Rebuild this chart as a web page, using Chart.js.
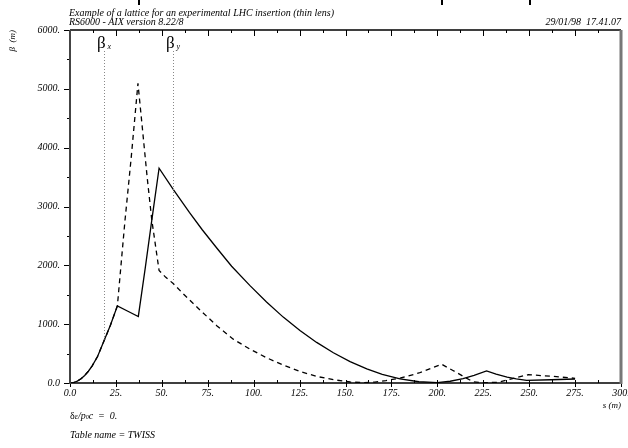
<!DOCTYPE html>
<html>
<head>
<meta charset="utf-8">
<script src="https://cdn.jsdelivr.net/npm/chart.js@4.4.0/dist/chart.umd.min.js"></script>
<style>
html, body { margin: 0; padding: 0; background: #fff; }
#wrap { position: relative; width: 628px; height: 448px; font-family: "Liberation Serif", "DejaVu Serif", serif; font-style: italic; color: #000; }
#wrap canvas { position: absolute; left: 0; top: 0; }
.t { position: absolute; white-space: pre; font-size: 10px; line-height: 10px; }
.f { position: absolute; white-space: pre; font-size: 10px; line-height: 12px; }
.bar { position: absolute; top: 0; width: 2px; height: 5px; background: #000; }
</style>
</head>
<body>
<div id="wrap">
  <canvas id="c" width="628" height="448"></canvas>
  <div class="bar" style="left:138px"></div>
  <div class="bar" style="left:441px"></div>
  <div class="bar" style="left:529px"></div>
  <div class="t" style="left:69px;top:8px">Example of a lattice for an experimental LHC insertion (thin lens)</div>
  <div class="t" style="left:69px;top:17px">RS6000 - AIX version 8.22/8</div>
  <div class="t" style="right:7px;top:17px">29/01/98  17.41.07</div>
  <div class="f" style="left:70px;top:410px"><span style="font-style:normal">δ</span><span style="font-size:8px">ε</span>/p<span style="font-size:6px">0</span>c  =  0.</div>
  <div class="f" style="left:70px;top:429px">Table name = TWISS</div>
</div>
<script>
// beta x (solid)
const sX = [0, 2, 4, 6, 8, 10, 12, 15, 18.7, 22, 25.8, 31.5, 37.2, 41, 44.5, 48.5, 56.2, 65, 72, 79.9, 88, 98, 107, 116.1, 125.2, 134.3, 143.4, 152.5, 161.6, 170, 179.7, 190, 200, 207, 214, 220, 226.8, 232, 238, 243, 248.6, 262, 275];
const betaX = [0, 8, 32, 72, 128, 200, 288, 450, 730, 980, 1312, 1220, 1131, 1960, 2760, 3650, 3290, 2900, 2605, 2295, 1985, 1655, 1378, 1120, 893, 690, 514, 363, 239, 148, 70, 21, 8, 30, 75, 130, 205, 150, 100, 70, 45, 55, 68];

// beta y (dashed)
const sY = [0, 2, 4, 6, 8, 10, 12, 15, 18.7, 22, 25.8, 29.9, 33.2, 37, 39.5, 42, 44.5, 48.5, 52, 56.2, 61.7, 70.8, 79.9, 88.9, 98, 107.1, 116.1, 125.2, 134.3, 143.4, 152.5, 160, 166, 172, 180, 190, 202.3, 208, 211, 214, 219.5, 225, 233, 241, 249.5, 262, 275];
const betaY = [0, 8, 32, 72, 128, 200, 288, 450, 730, 980, 1312, 2750, 3790, 5093, 4300, 3500, 2780, 1912, 1800, 1690, 1515, 1240, 975, 745, 575, 428, 305, 195, 112, 56, 17, 6, 15, 40, 85, 170, 320, 220, 170, 115, 20, 5, 12, 75, 141, 115, 80];

// label markers (beta_x, beta_y)
const markerNames = ['x', 'y'];
const markerS = [18.7, 56.2];
const markerBeta = [740, 1720];

const xTicksMajor = 25, xTicksMinor = 12.5;
const yTicksMajor = 1000, yTicksMinor = 500;

const serif = '"Liberation Serif", "DejaVu Serif", serif';

function fmt(v) { return v === 0 ? '0.0' : v + '.'; }

const frame = {
  id: 'frame',
  afterDraw(chart) {
    const ctx = chart.ctx, a = chart.chartArea;
    const xs = chart.scales.x, ys = chart.scales.y;
    ctx.save();
    // ticks
    ctx.strokeStyle = '#000';
    ctx.lineWidth = 1;
    ctx.beginPath();
    for (let v = 0; v <= xs.max; v += xTicksMinor) {
      const px = Math.round(xs.getPixelForValue(v)) + 0.5;
      const major = v % xTicksMajor === 0;
      ctx.moveTo(px, a.bottom - 3);
      ctx.lineTo(px, a.bottom + (major ? 4 : 0));
      ctx.moveTo(px, a.top);
      ctx.lineTo(px, a.top + (major ? 6 : 3));
    }
    for (let v = 0; v <= ys.max; v += yTicksMinor) {
      const py = Math.round(ys.getPixelForValue(v)) + 0.5;
      const major = v % yTicksMajor === 0;
      ctx.moveTo(a.left - (major ? 6 : 3), py);
      ctx.lineTo(a.left, py);
    }
    ctx.stroke();
    // frame lines
    ctx.lineWidth = 1.5;
    ctx.beginPath();
    ctx.moveTo(a.left, a.top); ctx.lineTo(a.right, a.top);
    ctx.moveTo(a.left, a.bottom); ctx.lineTo(a.right, a.bottom);
    ctx.stroke();
    ctx.strokeStyle = '#444';
    ctx.lineWidth = 2;
    ctx.beginPath(); ctx.moveTo(a.left, a.top); ctx.lineTo(a.left, a.bottom + 1); ctx.stroke();
    ctx.strokeStyle = '#777';
    ctx.lineWidth = 3;
    ctx.beginPath(); ctx.moveTo(a.right, a.top); ctx.lineTo(a.right, a.bottom + 1); ctx.stroke();

    // beta labels and dotted leaders
    markerS.forEach((s, i) => {
      const px = Math.round(xs.getPixelForValue(s)) + 0.5;
      ctx.strokeStyle = '#888';
      ctx.lineWidth = 1;
      ctx.setLineDash([1, 2]);
      ctx.beginPath();
      ctx.moveTo(px, a.top + 21);
      ctx.lineTo(px, ys.getPixelForValue(markerBeta[i]));
      ctx.stroke();
      ctx.setLineDash([]);
      ctx.fillStyle = '#000';
      ctx.textBaseline = 'alphabetic';
      ctx.textAlign = 'left';
      ctx.font = '17px ' + serif;
      ctx.fillText('β', px - 7.5, a.top + 18);
      ctx.font = 'italic 8px ' + serif;
      ctx.fillText(markerNames[i], px + 3, a.top + 19);
    });
    ctx.restore();
  }
};

new Chart(document.getElementById('c'), {
  type: 'line',
  data: {
    datasets: [
      {
        label: 'beta x',
        data: sX.map((s, i) => ({ x: s, y: betaX[i] })),
        borderColor: '#000',
        borderWidth: 1.3,
        pointRadius: 0,
        tension: 0,
        fill: false
      },
      {
        label: 'beta y',
        data: sY.map((s, i) => ({ x: s, y: betaY[i] })),
        borderColor: '#000',
        borderWidth: 1.3,
        borderDash: [5, 4],
        pointRadius: 0,
        tension: 0,
        fill: false
      }
    ]
  },
  options: {
    responsive: false,
    animation: false,
    devicePixelRatio: 1,
    layout: { padding: { top: 30, right: 7, left: 0, bottom: 0 } },
    plugins: { legend: { display: false }, tooltip: { enabled: false } },
    scales: {
      x: {
        type: 'linear', min: 0, max: 300,
        grid: { display: false, drawTicks: false },
        border: { display: false },
        ticks: {
          stepSize: xTicksMajor, autoSkip: false, maxRotation: 0, padding: 4,
          color: '#000', font: { family: serif, style: 'italic', size: 10 },
          callback: v => fmt(v)
        },
        title: {
          display: true, text: 's (m)', align: 'end', color: '#000',
          font: { family: serif, style: 'italic', size: 9 },
          padding: { top: 0, bottom: 37 }
        },
        afterFit(s) { s.height = 65; s.paddingLeft = 0; s.paddingRight = 0; }
      },
      y: {
        min: 0, max: 6000,
        grid: { display: false, drawTicks: false },
        border: { display: false },
        ticks: {
          stepSize: yTicksMajor, padding: 10,
          color: '#000', font: { family: serif, style: 'italic', size: 10 },
          callback: v => fmt(v)
        },
        title: {
          display: true, text: 'β  (m)', align: 'end', color: '#000',
          font: { family: serif, style: 'italic', size: 9 },
          padding: { top: 7, bottom: 0 }
        },
        afterFit(s) { s.width = 70; s.paddingTop = 0; s.paddingBottom = 0; }
      }
    }
  },
  plugins: [frame]
});
</script>
</body>
</html>
